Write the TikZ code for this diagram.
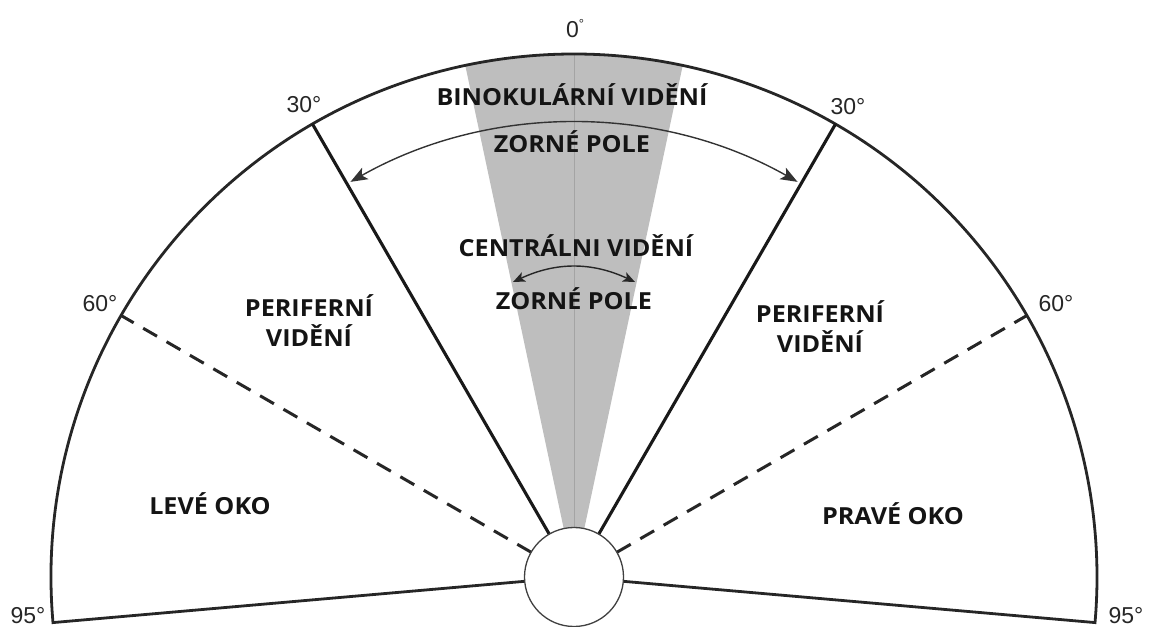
\documentclass[tikz,border=0pt]{standalone}
\usepackage{fontspec}
\setmainfont{Open Sans}
\newfontfamily\labf{Open Sans}[FakeStretch=1.07]
\newfontfamily\arialf{Liberation Sans}
\usetikzlibrary{arrows.meta}
\definecolor{wedge}{HTML}{BEBEBE}
\definecolor{wline}{HTML}{A4A4A4}
\definecolor{ink}{HTML}{141414}
\begin{document}
\begin{tikzpicture}[x=1pt,y=1pt,
  lab/.style={font=\labf\fontsize{23.5}{30}\selectfont\bfseries, text=ink, inner sep=0pt, anchor=base},
  deg/.style={font=\arialf\fontsize{23}{26}\selectfont, text=black!85, inner sep=0pt, anchor=base},
  rim/.style={line width=2.8pt, draw=black!85},
  ray/.style={line width=3.1pt, draw=black!90},
  dray/.style={line width=3pt, draw=black!85, dash pattern=on 16pt off 11pt},
  tipbig/.tip={Stealth[length=17pt,width=13pt,inset=4pt]},
  tipsmall/.tip={Stealth[length=12pt,width=10pt,inset=3pt]},
  fovbig/.style={line width=1.4pt, draw=black!80, tipbig-tipbig},
  fovsmall/.style={line width=1.4pt, draw=black!85, tipsmall-tipsmall},
]
\useasboundingbox (0,0) rectangle (1155,626);
\coordinate (O) at (574,49);
\foreach \n/\a in {L95/185,L60/150,L30/120,LW/102,M/90,RW/78,R30/60,R60/30,R95/-5}{
  \coordinate (i\n) at ([shift={(\a:49.5)}]O);
  \coordinate (o\n) at ([shift={(\a:523)}]O);
}
\coordinate (bigL) at ([shift={(119.5:454)}]O);
\coordinate (smallL) at (513,344);
\coordinate (smallR) at (635,344);

% gray binocular wedge
\fill[wedge] (O) -- (oLW) arc[start angle=102, end angle=78, radius=523] -- cycle;
\draw[wline, line width=1pt] (O) -- (oM);

% outline
\draw[rim] (iL95) -- (oL95) arc[start angle=185, end angle=-5, radius=523] -- (iR95);

% rays
\draw[ray] (iL30) -- (oL30);
\draw[ray] (iR30) -- (oR30);
\draw[dray] (iL60) -- (oL60);
\draw[dray] (iR60) -- (oR60);

% eye circle
\node[circle, draw=black!75, line width=1.3pt, fill=white, minimum size=99pt, inner sep=0pt] (eye) at (O) {};

% field-of-view arrows
\draw[fovbig] (bigL) arc[start angle=119.5, end angle=60.5, radius=454];
\draw[fovsmall] (smallL) to[bend left=25] (smallR);

% labels
\node[lab] (bino) at (572,520) {BINOKULÁRNÍ VIDĚNÍ};
\node[lab] (zp1) at (572,473) {ZORNÉ POLE};
\node[lab] (cent) at (576,369) {CENTRÁLNI VIDĚNÍ};
\node[lab] (zp2) at (574,316) {ZORNÉ POLE};
\node[lab] (perL1) at (309,309) {PERIFERNÍ};
\node[lab] (perL2) at (309,279) {VIDĚNÍ};
\node[lab] (perR1) at (820,303) {PERIFERNÍ};
\node[lab] (perR2) at (820,273) {VIDĚNÍ};
\node[lab] (levo) at (210,111) {LEVÉ OKO};
\node[lab] (pravo) at (893,101) {PRAVÉ OKO};

% degree labels
\node[deg] (d0) at (575,588) {0\raisebox{9pt}{\fontsize{13}{13}\selectfont °}};
\node[deg] (d30L) at (304,513) {30°};
\node[deg] (d30R) at (848,511) {30°};
\node[deg] (d60L) at (100,314) {60°};
\node[deg] (d60R) at (1056,314) {60°};
\node[deg] (d95L) at (28,3) {95°};
\node[deg] (d95R) at (1126,3) {95°};
\end{tikzpicture}
\end{document}
